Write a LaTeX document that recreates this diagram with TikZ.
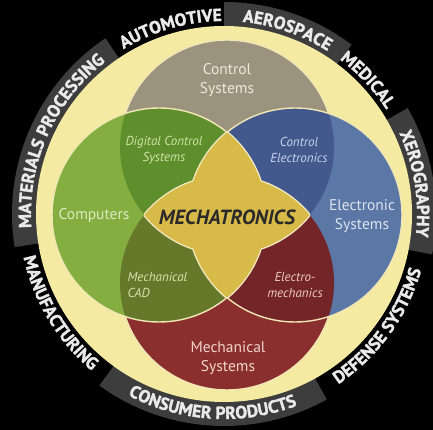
\documentclass[tikz,border=0pt]{standalone}
\usepackage{fontspec}
\setmainfont{PT Sans}
\newfontfamily\bandfam{PT Sans}[BoldFeatures={FakeBold=1.6}]
\usetikzlibrary{decorations.text}
\definecolor{bandgray}{HTML}{3D3D3D}
\definecolor{bandtxt}{HTML}{EAEAEA}
\definecolor{discY}{HTML}{F4EAA2}
\definecolor{cgray}{HTML}{9C937F}
\definecolor{cgreen}{HTML}{84AE3F}
\definecolor{cblue}{HTML}{5A77A6}
\definecolor{cred}{HTML}{8A2E2E}
\definecolor{cdcs}{HTML}{5F8F2C}
\definecolor{cce}{HTML}{43598E}
\definecolor{cmcad}{HTML}{66792A}
\definecolor{cem}{HTML}{742528}
\definecolor{cstar}{HTML}{D8BA48}
\definecolor{outl}{HTML}{F1E7B5}
\definecolor{starline}{HTML}{F4EDC8}
\definecolor{tgray}{HTML}{EEE8D8}
\definecolor{tgreen}{HTML}{DDEBC2}
\definecolor{tblue}{HTML}{DCE2EF}
\definecolor{tred}{HTML}{F0D6C9}
\definecolor{tdcs}{HTML}{CFE3A5}
\definecolor{tce}{HTML}{C9D3EA}
\definecolor{tmcad}{HTML}{D8E2AE}
\definecolor{tem}{HTML}{EDCDBD}
\definecolor{tmech}{HTML}{2A2A2A}
\newcommand\bandfont{\bandfam\bfseries\fontsize{17.5}{17.5}\selectfont}
\newcommand\bandsector[2]{\fill[bandgray] (#1:186) arc[start angle=#1,end angle=#2,radius=186] -- (#2:212) arc[start angle=#2,end angle=#1,radius=212] -- cycle;}
\tikzset{
  bandlabel/.style={decorate,decoration={text along path,text align=center,text color=bandtxt,text={|\bandfont|#1}}},
  ring/.style={draw=outl,line width=1.4pt},
  starrim/.style={draw=starline,line width=2.6pt},
  mainlbl/.style={font=\fontsize{15.5}{19}\selectfont,align=center},
  sublbl/.style={font=\itshape\fontsize{13}{16}\selectfont,align=center},
}
\begin{document}
\begin{tikzpicture}[x=1pt,y=1pt]
\useasboundingbox (0,0) rectangle (433,430);
\fill[black] (0,0) rectangle (433,430);
% outer band
\begin{scope}[shift={(224,216)}]
  \bandsector{124}{189}
  \bandsector{53}{90}
  \bandsector{-11}{30}
  \bandsector{-126}{-61}
  \fill[discY] (0,0) circle[radius=188];
  % clockwise labels (tops outward)
  \path[bandlabel=MATERIALS PROCESSING] (201:193) arc[start angle=201,end angle=111,radius=193];
  \path[bandlabel=AUTOMOTIVE] (151:193) arc[start angle=151,end angle=61,radius=193];
  \path[bandlabel=AEROSPACE] (116:193) arc[start angle=116,end angle=26,radius=193];
  \path[bandlabel=MEDICAL] (88:193) arc[start angle=88,end angle=-2,radius=193];
  \path[bandlabel=XEROGRAPHY] (54:193) arc[start angle=54,end angle=-36,radius=193];
  % counter-clockwise labels (tops inward)
  \path[bandlabel=DEFENSE SYSTEMS] (-81:205) arc[start angle=-81,end angle=9,radius=205];
  \path[bandlabel=CONSUMER PRODUCTS] (-139:205) arc[start angle=-139,end angle=-48,radius=205];
  \path[bandlabel=MANUFACTURING] (166:205) arc[start angle=166,end angle=256,radius=205];
\end{scope}
% circle centres
\coordinate (cs) at (227,283);
\coordinate (cp) at (159,215);
\coordinate (es) at (295,215);
\coordinate (ms) at (227,147);
% base circles
\fill[cgray] (cs) circle[radius=107];
\draw[ring] (cs) circle[radius=107];
\fill[cred] (ms) circle[radius=107];
\draw[ring] (ms) circle[radius=107];
\fill[cgreen] (cp) circle[radius=107];
\fill[cblue] (es) circle[radius=107];
% overlaps
\begin{scope}
  \clip (cs) circle[radius=107];
  \fill[cdcs] (cp) circle[radius=107];
  \fill[cce] (es) circle[radius=107];
\end{scope}
\begin{scope}
  \clip (ms) circle[radius=107];
  \fill[cmcad] (cp) circle[radius=107];
  \fill[cem] (es) circle[radius=107];
\end{scope}
\draw[ring] (cp) circle[radius=107];
\draw[ring] (es) circle[radius=107];
% star rim
\begin{scope}\clip (cp) circle[radius=107]; \draw[starrim] (es) circle[radius=107];\end{scope}
\begin{scope}\clip (es) circle[radius=107]; \draw[starrim] (cp) circle[radius=107];\end{scope}
\begin{scope}\clip (cs) circle[radius=107]; \draw[starrim] (ms) circle[radius=107];\end{scope}
\begin{scope}\clip (ms) circle[radius=107]; \draw[starrim] (cs) circle[radius=107];\end{scope}
% star fill
\begin{scope}\clip (cp) circle[radius=107]; \fill[cstar] (es) circle[radius=107];\end{scope}
\begin{scope}\clip (cs) circle[radius=107]; \fill[cstar] (ms) circle[radius=107];\end{scope}
% labels
\node[mainlbl,text=tgray] (lcs) at (227,350) {Control\\Systems};
\node[mainlbl,text=tgreen] (lcp) at (94,214) {Computers};
\node[mainlbl,text=tblue] (les) at (362,214) {Electronic\\Systems};
\node[mainlbl,text=tred] (lms) at (228,72) {Mechanical\\Systems};
\node[sublbl,text=tdcs] (ldcs) at (164,280) {Digital Control\\Systems};
\node[sublbl,text=tce] (lce) at (299,280) {Control\\Electronics};
\node[sublbl,text=tmcad,align=left,anchor=west] (lmcad) at (124,145) {Mechanical\\CAD};
\node[sublbl,text=tem] (lem) at (295,145) {Electro-\\mechanics};
\node[font=\bfseries\itshape\fontsize{20.5}{20.5}\selectfont,text=tmech] (lmech) at (227,213) {MECHATRONICS};
\end{tikzpicture}
\end{document}
